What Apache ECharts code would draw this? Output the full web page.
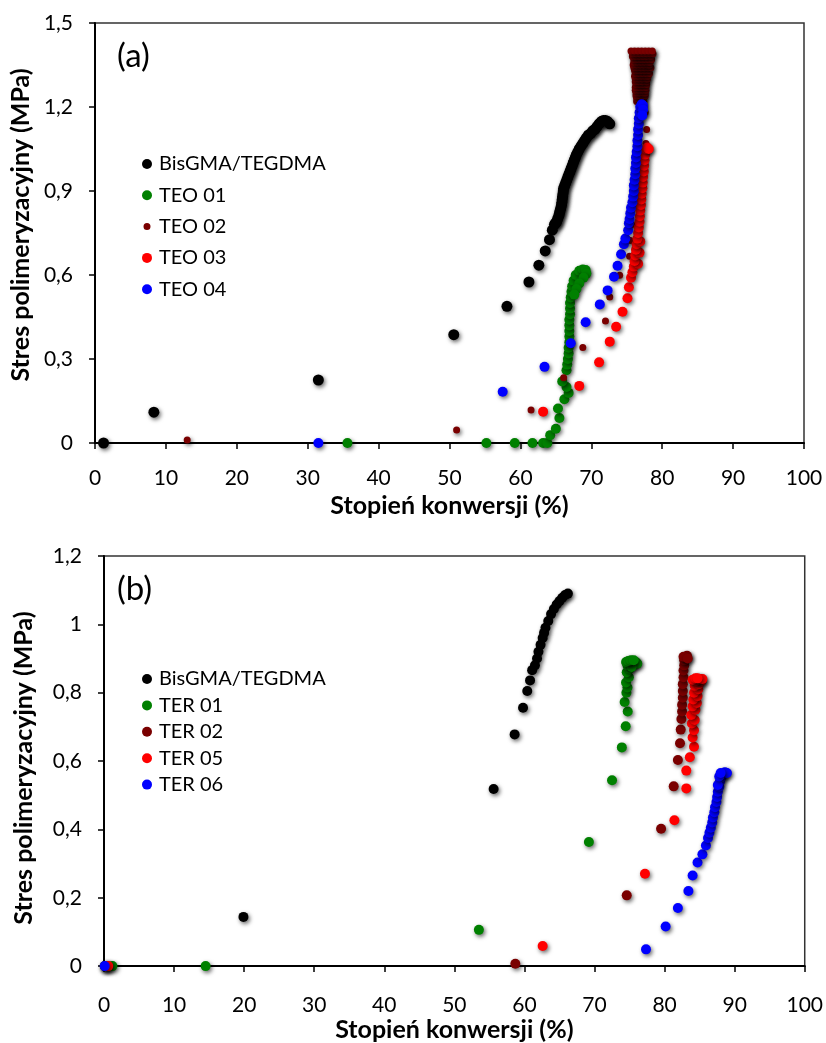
<!DOCTYPE html>
<html><head><meta charset="utf-8">
<script src="https://cdn.jsdelivr.net/npm/echarts/dist/echarts.min.js"></script>
<style>html,body{margin:0;padding:0;background:#fff}#c{width:826px;height:1043px}</style>
</head><body><div id="c"></div>
<script>
const namesA = ['BisGMA/TEGDMA', 'TEO 01', 'TEO 02', 'TEO 03', 'TEO 04'];
const namesB = ['BisGMA/TEGDMA', 'TER 01', 'TER 02', 'TER 05', 'TER 06'];
const yTickLabelsA = ['0', '0,3', '0,6', '0,9', '1,2', '1,5'];
const yTickLabelsB = ['0', '0,2', '0,4', '0,6', '0,8', '1', '1,2'];
const xTickLabels = ['0', '10', '20', '30', '40', '50', '60', '70', '80', '90', '100'];
const xTitle = 'Stopień konwersji (%)';
const yTitle = 'Stres polimeryzacyjny (MPa)';

// ---- panel (a) ----
const bisA = [[1.2,0],[8.3,0.11],[31.5,0.225],[50.6,0.387],[58.1,0.488],[61.2,0.575],[62.6,0.635],[63.5,0.686],[64.1,0.726],[64.5,0.76],[64.8,0.78],[64.95,0.785],[65.1,0.79],[65.25,0.80],[65.4,0.81],[65.5,0.82],[65.6,0.83],[65.7,0.84],[65.8,0.85],[65.85,0.86],[65.9,0.87],[65.95,0.88],[66.0,0.89],[66.05,0.90],[66.1,0.91],[66.25,0.92],[66.4,0.93],[66.55,0.94],[66.7,0.95],[66.85,0.96],[67.0,0.97],[67.15,0.98],[67.3,0.99],[67.45,1.0],[67.6,1.01],[67.75,1.02],[67.9,1.03],[68.1,1.04],[68.3,1.05],[68.55,1.06],[68.8,1.07],[69.05,1.08],[69.3,1.09],[69.6,1.10],[69.9,1.105],[70.2,1.115],[70.5,1.12],[70.8,1.13],[71.1,1.14],[71.4,1.148],[71.7,1.152],[72.0,1.152],[72.3,1.148],[72.6,1.14]];
const teo01A = [[35.6,0],[55.2,0],[59.2,0],[61.7,0],[63.2,0],[63.8,0],[64.2,0.028],[65.0,0.051],[65.5,0.089],[65.3,0.123],[66.2,0.156],[66.8,0.179],[66.5,0.2],[65.9,0.22],[66.5,0.26],[66.6,0.28],[66.7,0.30],[66.8,0.32],[66.8,0.34],[66.9,0.36],[66.9,0.38],[66.9,0.40],[66.9,0.42],[66.9,0.44],[67.0,0.46],[67.0,0.48],[67.0,0.50],[67.1,0.52],[67.2,0.54],[67.3,0.56],[67.5,0.58],[67.8,0.60],[68.3,0.615],[68.8,0.62],[69.2,0.618],[69.3,0.605],[68.9,0.59],[68.3,0.57],[67.9,0.55],[67.6,0.53]];
const teo02A = [[13.0,0.011],[51.0,0.046],[61.5,0.118],[66.1,0.233],[68.8,0.341],[72.0,0.436],[72.6,0.521],[74.0,0.599],[75.4,0.667],[75.5,0.723],[75.7,0.78],[75.9,0.85],[76.1,0.92],[76.3,1.0],[76.5,1.08],[77.7,1.07],[77.8,1.12],[76.8,1.15],[77.6,1.18],
  [76.4,1.22],[76.9,1.22],[77.4,1.22],[76.4,1.23],[76.9,1.23],[77.4,1.23],[76.3,1.24],[76.8,1.24],[77.3,1.24],[77.6,1.24],[76.3,1.25],[76.8,1.25],[77.3,1.25],[77.6,1.25],
  [76.2,1.26],[76.7,1.26],[77.2,1.26],[77.7,1.26],[76.2,1.27],[76.7,1.27],[77.2,1.27],[77.7,1.27],[76.3,1.28],[76.8,1.28],[77.3,1.28],[77.8,1.28],[76.2,1.29],[76.7,1.29],[77.2,1.29],[77.8,1.29],
  [76.2,1.30],[76.7,1.30],[77.2,1.30],[77.7,1.30],[77.9,1.30],[76.1,1.31],[76.6,1.31],[77.1,1.31],[77.6,1.31],[78.0,1.31],[76.2,1.32],[76.7,1.32],[77.2,1.32],[77.7,1.32],[78.2,1.32],
  [76.1,1.33],[76.6,1.33],[77.1,1.33],[77.6,1.33],[78.1,1.33],[76.0,1.34],[76.5,1.34],[77.0,1.34],[77.5,1.34],[78.0,1.34],[78.4,1.34],[75.9,1.35],[76.4,1.35],[76.9,1.35],[77.4,1.35],[77.9,1.35],[78.2,1.35],
  [76.0,1.36],[76.5,1.36],[77.0,1.36],[77.5,1.36],[78.0,1.36],[78.3,1.36],[76.0,1.37],[76.5,1.37],[77.0,1.37],[77.5,1.37],[78.0,1.37],[78.5,1.37],[75.8,1.38],[76.3,1.38],[76.8,1.38],[77.3,1.38],[77.8,1.38],[78.4,1.38],
  [75.8,1.39],[76.3,1.39],[76.8,1.39],[77.3,1.39],[77.8,1.39],[78.3,1.39],[78.7,1.39],[75.6,1.40],[76.1,1.40],[76.6,1.40],[77.1,1.40],[77.6,1.40],[78.1,1.40],[78.6,1.40]];
const teo03A = [[63.2,0.112],[68.3,0.204],[71.1,0.288],[72.6,0.362],[73.5,0.415],[74.4,0.469],[75.1,0.517],[75.3,0.556],[75.6,0.59],[75.8,0.61],[76.0,0.63],[76.6,0.64],[76.1,0.65],[76.2,0.67],[76.8,0.68],[76.3,0.69],[76.4,0.71],[76.9,0.72],[76.5,0.73],[76.6,0.75],[76.7,0.77],[76.8,0.79],[76.85,0.81],[76.9,0.83],[77.0,0.85],[77.05,0.87],[77.1,0.89],[77.2,0.91],[77.25,0.93],[77.3,0.95],[77.4,0.97],[77.45,0.99],[77.5,1.01],[77.6,1.03],[77.7,1.05],[77.9,1.055],[78.1,1.05]];
const teo04A = [[31.5,0],[57.5,0.183],[63.4,0.272],[67.1,0.356],[69.2,0.431],[71.2,0.495],[72.3,0.545],[73.2,0.594],[73.7,0.633],[74.2,0.674],[74.6,0.71],[74.8,0.73],[75.2,0.76],[75.3,0.785],[75.4,0.80],[75.5,0.82],[75.6,0.84],[75.8,0.86],[75.9,0.88],[76.0,0.90],[76.0,0.92],[76.1,0.94],[76.2,0.96],[76.2,0.98],[76.3,1.00],[76.3,1.02],[76.4,1.04],[76.5,1.06],[76.5,1.08],[76.6,1.10],[76.6,1.12],[76.7,1.14],[76.7,1.16],[76.8,1.18],[76.9,1.20],[77.1,1.21],[77.3,1.205],[77.3,1.19],[77.2,1.17]];

// ---- panel (b) ----
const bisB = [[0.1,0],[0.3,0],[19.9,0.144],[55.6,0.518],[58.6,0.678],[59.8,0.756],[60.4,0.805],[60.8,0.836],[61.1,0.866],[61.5,0.88],[61.8,0.90],[62.0,0.92],[62.3,0.94],[62.6,0.96],[62.8,0.975],[63.0,0.99],[63.4,1.01],[63.8,1.03],[64.2,1.045],[64.6,1.058],[65.0,1.068],[65.4,1.078],[65.8,1.086],[66.2,1.09]];
const ter01B = [[1.2,0],[14.5,0],[53.5,0.106],[69.2,0.363],[72.5,0.544],[73.9,0.64],[74.45,0.702],[74.74,0.745],[74.3,0.773],[74.55,0.80],[74.7,0.815],[74.5,0.83],[74.9,0.845],[74.6,0.86],[75.0,0.87],[74.7,0.88],[75.1,0.885],[75.5,0.888],[75.9,0.89],[76.1,0.885],[75.3,0.875],[74.5,0.89],[74.8,0.893],[75.2,0.895],[75.6,0.895]];
const ter02B = [[0.5,0],[58.7,0.007],[74.6,0.207],[79.5,0.402],[81.3,0.526],[81.9,0.603],[82.2,0.652],[82.3,0.692],[82.4,0.723],[82.5,0.745],[82.5,0.765],[82.6,0.785],[82.6,0.805],[82.6,0.825],[82.7,0.845],[82.7,0.865],[82.8,0.88],[82.8,0.895],[83.0,0.905],[83.2,0.908],[82.7,0.905],[83.3,0.9]];
const ter05B = [[0.6,0],[62.6,0.059],[77.2,0.27],[81.4,0.427],[83.1,0.52],[83.1,0.572],[83.6,0.611],[84.2,0.642],[84.0,0.669],[84.2,0.69],[83.9,0.71],[84.3,0.72],[83.8,0.735],[84.4,0.75],[84.0,0.76],[84.6,0.77],[84.1,0.78],[84.7,0.79],[84.2,0.80],[84.8,0.81],[84.3,0.82],[84.9,0.825],[85.3,0.835],[84.5,0.835],[84.0,0.838],[85.0,0.84],[84.4,0.842],[85.4,0.84],[84.7,0.842]];
const ter06B = [[0.1,0],[77.35,0.049],[80.15,0.116],[81.9,0.17],[83.4,0.22],[84.0,0.265],[84.7,0.303],[85.4,0.327],[85.9,0.353],[86.2,0.375],[86.4,0.39],[86.6,0.405],[86.8,0.42],[86.9,0.435],[87.1,0.45],[87.2,0.465],[87.4,0.48],[87.5,0.495],[87.6,0.51],[87.8,0.525],[87.9,0.54],[88.1,0.552],[88.3,0.562],[88.6,0.567],[88.9,0.565],[87.6,0.53],[87.8,0.555],[88.0,0.565]];

const colors = ['#000000', '#008000', '#7a0000', '#ff0000', '#0000ff'];
const FONT = 'Lato';

const shadow = { shadowBlur: 4, shadowColor: 'rgba(0,0,0,0.6)', shadowOffsetX: 1.5, shadowOffsetY: 2 };

function mkSeries(name, data, color, size, gi) {
  return {
    type: 'scatter', name: name, data: data, xAxisIndex: gi, yAxisIndex: gi,
    symbol: 'circle', symbolSize: size, animation: false,
    itemStyle: Object.assign({ color: color, opacity: 1 }, shadow),
    emphasis: { disabled: true }
  };
}

function xAxisCfg(gi, margin, nameGap) {
  return {
    gridIndex: gi, type: 'value', min: 0, max: 100, interval: 10,
    name: xTitle, nameLocation: 'middle', nameGap: nameGap,
    nameTextStyle: { fontFamily: FONT, fontWeight: 'bold', fontSize: 25, color: '#000' },
    axisLine: { onZero: false, lineStyle: { color: '#000', width: 2 } },
    axisTick: { show: true, length: 6, lineStyle: { color: '#000', width: 1.5 } },
    axisLabel: { margin: margin, fontFamily: FONT, fontSize: 21, color: '#000',
      formatter: (v, i) => xTickLabels[i] },
    splitLine: { show: false }
  };
}
function yAxisCfg(gi, max, interval, labels, nameGap, pad) {
  return {
    gridIndex: gi, type: 'value', min: 0, max: max, interval: interval,
    name: yTitle, nameLocation: 'middle', nameGap: nameGap, nameRotate: 90,
    nameTextStyle: { fontFamily: FONT, fontWeight: 'bold', fontSize: 25, color: '#000', padding: pad },
    axisLine: { onZero: false, lineStyle: { color: '#000', width: 2 } },
    axisTick: { show: true, length: 6, lineStyle: { color: '#000', width: 1.5 } },
    axisLabel: { margin: 22, fontFamily: FONT, fontSize: 21, color: '#000',
      formatter: (v, i) => labels[i] },
    splitLine: { show: false }
  };
}

const legendCommon = {
  orient: 'vertical', itemWidth: 10, itemHeight: 10, itemGap: 11,
  icon: 'circle', selectedMode: false,
  textStyle: { fontFamily: FONT, fontSize: 20, color: '#000', lineHeight: 20, padding: [0, 0, 0, 2] },
  itemStyle: { shadowBlur: 0, shadowColor: 'rgba(0,0,0,0)', shadowOffsetX: 0, shadowOffsetY: 0 }
};
const smallIcon = 'path://M0,0L0.01,0M10,10L9.99,10M1.5,5A3.5,3.5 0 1,0 8.5,5A3.5,3.5 0 1,0 1.5,5Z';

const chart = echarts.init(document.getElementById('c'), null, { renderer: 'canvas' });
chart.setOption({
  backgroundColor: '#fff',
  animation: false,
  grid: [
    { left: 94, top: 23, width: 710, height: 420, show: true, borderColor: '#333', borderWidth: 1.5, backgroundColor: 'transparent' },
    { left: 104, top: 556, width: 702, height: 413, show: true, borderColor: '#333', borderWidth: 1.5, backgroundColor: 'transparent' }
  ],
  xAxis: [xAxisCfg(0, 25, 50), xAxisCfg(1, 29, 50)],
  yAxis: [yAxisCfg(0, 1.5, 0.3, yTickLabelsA, 56, [0, 0, 0, 16]), yAxisCfg(1, 1.2, 0.2, yTickLabelsB, 68, [0, 14, 0, 0])],
  legend: [
    Object.assign({}, legendCommon, { left: 137, top: 149, itemGap: 11.3,
      data: namesA.map((n, i) => i === 2 ? { name: n, icon: smallIcon } : { name: n }) }),
    Object.assign({}, legendCommon, { left: 137, top: 664, itemGap: 6.4,
      data: namesB.map(n => ({ name: n })) })
  ],
  graphic: [
    { type: 'text', left: 117, top: 40, style: { text: '(a)', font: '33px Lato', fill: '#000' } },
    { type: 'text', left: 117, top: 573, style: { text: '(b)', font: '33px Lato', fill: '#000' } }
  ],
  series: [
    mkSeries(namesA[0], bisA, colors[0], 11, 0),
    mkSeries(namesA[1], teo01A, colors[1], 10, 0),
    mkSeries(namesA[2], teo02A, colors[2], 7, 0),
    mkSeries(namesA[3], teo03A, colors[3], 10, 0),
    mkSeries(namesA[4], teo04A, colors[4], 10, 0),
    mkSeries(namesB[0], bisB, colors[0], 10, 1),
    mkSeries(namesB[1], ter01B, colors[1], 10, 1),
    mkSeries(namesB[2], ter02B, colors[2], 10, 1),
    mkSeries(namesB[3], ter05B, colors[3], 10, 1),
    mkSeries(namesB[4], ter06B, colors[4], 10, 1)
  ]
});
</script></body></html>
